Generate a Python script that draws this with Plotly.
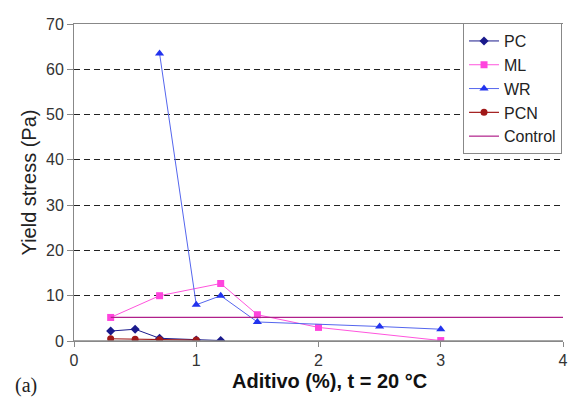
import plotly.graph_objects as go

# Yield stress vs additive dosage at 20 °C
pc_x = [0.3, 0.5, 0.7, 1.0, 1.2]
pc_y = [2.2, 2.6, 0.6, 0.2, 0.1]

ml_x = [0.3, 0.7, 1.2, 1.5, 2.0, 3.0]
ml_y = [5.2, 10.0, 12.7, 5.8, 3.0, 0.1]

wr_x = [0.7, 1.0, 1.2, 1.5, 2.5, 3.0]
wr_y = [63.5, 8.0, 10.0, 4.2, 3.2, 2.6]

pcn_x = [0.3, 0.5, 0.7, 1.0]
pcn_y = [0.5, 0.4, 0.3, 0.2]

control_x = [0.3, 4.0]
control_y = [5.2, 5.2]

x_ticks = [0, 1, 2, 3, 4]
y_ticks = [0, 10, 20, 30, 40, 50, 60, 70]

fig = go.Figure()
fig.add_trace(go.Scatter(x=pc_x, y=pc_y, name="PC", mode="lines+markers",
                         line=dict(color="#1a1a8c", width=1),
                         marker=dict(symbol="diamond", size=7, color="#1a1a8c")))
fig.add_trace(go.Scatter(x=ml_x, y=ml_y, name="ML", mode="lines+markers",
                         line=dict(color="#ff55dd", width=1),
                         marker=dict(symbol="square", size=7, color="#ff44dd")))
fig.add_trace(go.Scatter(x=wr_x, y=wr_y, name="WR", mode="lines+markers",
                         line=dict(color="#5566ee", width=1),
                         marker=dict(symbol="triangle-up", size=8, color="#2233ee")))
fig.add_trace(go.Scatter(x=pcn_x, y=pcn_y, name="PCN", mode="lines+markers",
                         line=dict(color="#a01818", width=1.2),
                         marker=dict(symbol="circle", size=7, color="#a01818")))
fig.add_trace(go.Scatter(x=control_x, y=control_y, name="Control", mode="lines",
                         line=dict(color="#b0208a", width=1.2)))

fig.update_layout(
    width=569, height=398,
    margin=dict(l=74, r=6, t=24, b=57),
    plot_bgcolor="white", paper_bgcolor="white",
    font=dict(family="Liberation Sans, Arial, sans-serif", color="#333333", size=16),
    showlegend=True,
    legend=dict(x=0.998, y=1.003, xanchor="right", yanchor="top",
                bgcolor="white", bordercolor="#888888", borderwidth=1,
                font=dict(size=16, color="#222222"),
                tracegroupgap=0, itemwidth=30),
    xaxis=dict(range=[0, 4], tickvals=x_ticks, showgrid=False,
               showline=True, linecolor="#888888", linewidth=1, mirror=True,
               ticks="outside", ticklen=5, tickcolor="#888888",
               zeroline=False, automargin=False),
    yaxis=dict(range=[0, 70], tickvals=y_ticks, showgrid=True,
               gridcolor="#222222", griddash="6px,4px", gridwidth=1,
               showline=True, linecolor="#888888", linewidth=1,
               ticks="outside", ticklen=6, tickcolor="#888888",
               zeroline=False, automargin=False,
               title=dict(text="Yield stress (Pa)",
                          font=dict(size=20, color="#222222"), standoff=4)),
)

# Bottom baseline drawn solid over the dashed grid
fig.add_shape(type="line", xref="paper", yref="y", x0=0, x1=1, y0=0, y1=0,
              line=dict(color="#888888", width=1.5))

# x-axis title, set slightly right of centre
fig.add_annotation(text="<b>Aditivo (%), t = 20 °C</b>", xref="paper", yref="paper",
                   x=0.523, y=-0.126, xanchor="center", yanchor="middle",
                   showarrow=False, font=dict(size=20, color="#111111"))

fig.add_annotation(text="(a)", xref="paper", yref="paper", x=-0.125, y=-0.14,
                   xanchor="left", yanchor="middle", showarrow=False,
                   font=dict(family="Liberation Serif, Times New Roman, serif",
                             size=20, color="#222222"))

fig.write_html("out.html")
